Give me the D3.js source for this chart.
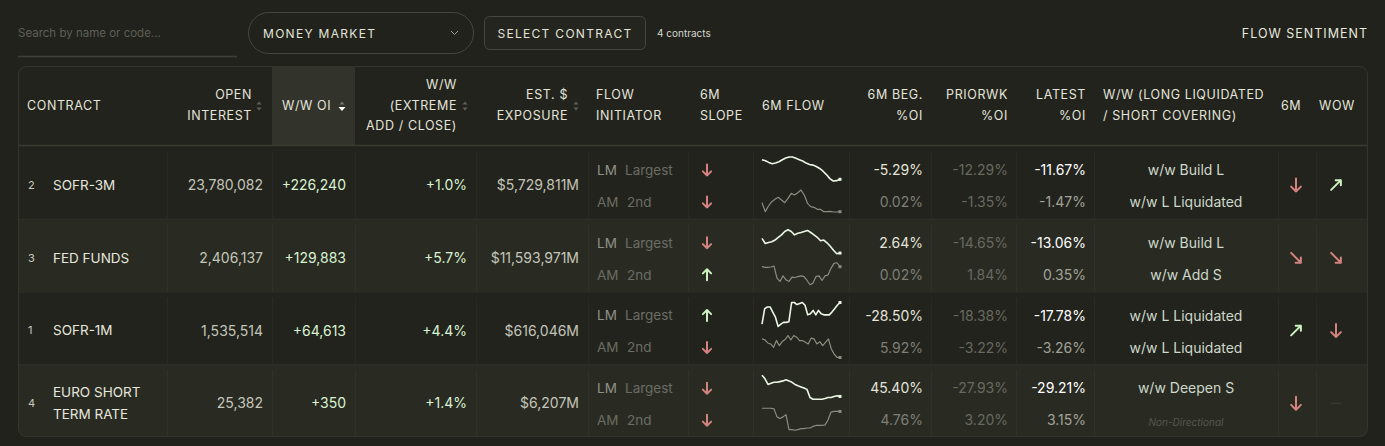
<!DOCTYPE html>
<html>
<head>
<meta charset="utf-8">
<script src="https://cdn.jsdelivr.net/npm/d3@7"></script>
<style>
  body { margin: 0; background: #21221c; overflow: hidden; }
  svg { display: block; font-family: Inter, "Noto Sans", sans-serif; }
</style>
</head>
<body>
<svg id="chart"></svg>
<script>
// ---- data ----
const contracts = [["SOFR-3M"], ["FED FUNDS"], ["SOFR-1M"], ["EURO SHORT", "TERM RATE"]];
const ranks = [2, 3, 1, 4];
const openInterest = [23780082, 2406137, 1535514, 25382];
const wwOI = [226240, 129883, 64613, 350];
const wwExtreme = [1.0, 5.7, 4.4, 1.4];
const exposureM = [5729811, 11593971, 616046, 6207];
const initiators = [["LM", "Largest"], ["AM", "2nd"]];
const slopeLM = ["down", "down", "up", "down"];
const slopeAM = ["down", "up", "down", "down"];
const begLM = [-5.29, 2.64, -28.50, 45.40];
const begAM = [0.02, 0.02, 5.92, 4.76];
const priorLM = [-12.29, -14.65, -18.38, -27.93];
const priorAM = [-1.35, 1.84, -3.22, 3.20];
const latestLM = [-11.67, -13.06, -17.78, -29.21];
const latestAM = [-1.47, 0.35, -3.26, 3.15];
const sentLM = ["w/w Build L", "w/w Build L", "w/w L Liquidated", "w/w Deepen S"];
const sentAM = ["w/w L Liquidated", "w/w Add S", "w/w L Liquidated", "Non-Directional"];
const dir6M = ["down", "downRight", "upRight", "down"];
const dirWoW = ["upRight", "downRight", "down", "none"];

// 6M flow sparklines (relative levels, higher = up)
const flowLM = [
  [70, 67, 62, 58, 60, 64, 70, 75, 78, 78, 74, 70, 66, 60, 56, 54, 50, 44, 36, 26, 14, 7, 8, 12],
  [55, 40, 43, 45, 50, 58, 65, 75, 80, 75, 65, 70, 72, 75, 78, 72, 65, 58, 48, 50, 42, 32, 20, 10, 12],
  [15, 60, 65, 65, 50, 35, 8, 15, 20, 20, 22, 78, 78, 72, 75, 78, 70, 42, 45, 55, 42, 55, 45, 42, 42, 42, 50, 60, 70, 78],
  [78, 68, 52, 55, 58, 58, 60, 62, 65, 62, 58, 52, 48, 45, 42, 38, 15, 10, 10, 10, 10, 12, 15, 15, 18, 20, 18]
];
const flowAM = [
  [42, 15, 32, 45, 52, 58, 50, 42, 55, 70, 65, 72, 80, 65, 40, 30, 28, 22, 22, 15, 15, 16, 14, 14, 15],
  [70, 68, 68, 69, 72, 35, 25, 42, 30, 25, 38, 37, 40, 42, 40, 28, 15, 20, 40, 42, 28, 42, 45, 65, 80, 82, 70],
  [70, 67, 58, 55, 45, 65, 50, 62, 68, 80, 67, 80, 75, 65, 65, 60, 55, 72, 70, 55, 62, 50, 60, 70, 40, 25, 15, 15],
  [82, 82, 82, 82, 80, 55, 50, 55, 62, 15, 15, 13, 15, 18, 18, 20, 20, 25, 28, 28, 28, 30, 45, 70, 72, 72, 72]
];

const headers = [
  { lines: ["CONTRACT"], x: 27, anchor: "start" },
  { lines: ["OPEN", "INTEREST"], x: 252, anchor: "end", sort: 259 },
  { lines: ["W/W OI"], x: 282, anchor: "start", sort: 342, active: true },
  { lines: ["W/W", "(EXTREME", "ADD / CLOSE)"], x: 457, anchor: "end", sort: 465 },
  { lines: ["EST. $", "EXPOSURE"], x: 568, anchor: "end", sort: 576 },
  { lines: ["FLOW", "INITIATOR"], x: 596, anchor: "start" },
  { lines: ["6M", "SLOPE"], x: 700, anchor: "start" },
  { lines: ["6M FLOW"], x: 762, anchor: "start" },
  { lines: ["6M BEG.", "%OI"], x: 923, anchor: "end" },
  { lines: ["PRIORWK", "%OI"], x: 1008, anchor: "end" },
  { lines: ["LATEST", "%OI"], x: 1086, anchor: "end" },
  { lines: ["W/W (LONG LIQUIDATED", "/ SHORT COVERING)"], x: 1103, anchor: "start" },
  { lines: ["6M"], x: 1291, anchor: "middle" },
  { lines: ["WOW"], x: 1337, anchor: "middle" }
];
const colEdges = [167, 272, 355, 476, 588, 688, 753, 849, 931, 1016, 1094, 1278, 1316];

// ---- setup ----
const W = 1385, H = 446;
const svg = d3.select("#chart").attr("width", W).attr("height", H);
svg.append("rect").attr("width", W).attr("height", H).attr("fill", "#21221c");

const loc = d3.formatLocale({ decimal: ".", thousands: ",", grouping: [3], currency: ["$", ""], minus: "-" });
const fInt = loc.format(",");
const fSigned = loc.format("+,");
const fPct1 = v => loc.format("+.1f")(v) + "%";
const fPct2 = v => loc.format(".2f")(v) + "%";

const RED = "#d4837e", GREEN = "#cdf2c2";

// ---- top controls ----
svg.append("text").attr("x", 18).attr("y", 37).attr("font-size", 11.5).attr("fill", "#5e5f56")
  .text("Search by name or code...");
svg.append("line").attr("x1", 18).attr("x2", 237).attr("y1", 56.5).attr("y2", 56.5)
  .attr("stroke", "#3f4038").attr("stroke-width", 1.5);

svg.append("rect").attr("x", 248.5).attr("y", 12.5).attr("width", 225).attr("height", 41).attr("rx", 20.5)
  .attr("fill", "none").attr("stroke", "#45463e");
svg.append("text").attr("x", 263).attr("y", 37.5).attr("font-size", 12).attr("letter-spacing", 1.3)
  .attr("fill", "#e3e3da").text("MONEY MARKET");
svg.append("path").attr("d", "M451,31 L454.5,34.5 L458,31").attr("fill", "none")
  .attr("stroke", "#a0a198").attr("stroke-width", 1);

svg.append("rect").attr("x", 484.5).attr("y", 16.5).attr("width", 161).attr("height", 33).attr("rx", 5)
  .attr("fill", "#24251f").attr("stroke", "#45463e");
svg.append("text").attr("x", 565).attr("y", 37.5).attr("text-anchor", "middle").attr("font-size", 12)
  .attr("letter-spacing", 1.3).attr("fill", "#e3e3da").text("SELECT CONTRACT");
svg.append("text").attr("x", 657).attr("y", 36.5).attr("font-size", 10).attr("fill", "#d6d6cc").text("4 contracts");

svg.append("text").attr("x", 1368).attr("y", 37.5).attr("text-anchor", "end").attr("font-size", 12.5)
  .attr("letter-spacing", 1).attr("fill", "#e8e8de").text("FLOW SENTIMENT");

// ---- table frame ----
const tX = 18, tY = 66, tW = 1350, tH = 371, headH = 79;
const clip = svg.append("defs").append("clipPath").attr("id", "tclip");
clip.append("rect").attr("x", tX).attr("y", tY).attr("width", tW).attr("height", tH).attr("rx", 8);
const table = svg.append("g").attr("clip-path", "url(#tclip)");
table.append("rect").attr("x", tX).attr("y", tY).attr("width", tW).attr("height", tH).attr("fill", "#22231d");

const y = d3.scaleBand().domain(d3.range(contracts.length)).range([tY + headH + 1, tY + tH]);

// row backgrounds
table.selectAll(".rowbg").data(d3.range(contracts.length)).enter().append("rect")
  .attr("x", tX).attr("width", tW)
  .attr("y", i => y(i)).attr("height", y.bandwidth())
  .attr("fill", i => i % 2 ? "#292b23" : "#22231d");
table.selectAll(".rowline").data(d3.range(1, contracts.length)).enter().append("line")
  .attr("x1", tX).attr("x2", tX + tW).attr("y1", i => y(i) + 0.5).attr("y2", i => y(i) + 0.5)
  .attr("stroke", "#2e3028");

// column dividers inside rows
d3.range(contracts.length).forEach(i => {
  table.selectAll(null).data(colEdges).enter().append("line")
    .attr("x1", d => d + 0.5).attr("x2", d => d + 0.5)
    .attr("y1", y(i) + 6).attr("y2", y(i) + y.bandwidth())
    .attr("stroke", i % 2 ? "#30322a" : "#282a23");
});

// header
table.append("rect").attr("x", 272).attr("y", tY).attr("width", 83).attr("height", headH)
  .attr("fill", "#32342c");
table.append("line").attr("x1", tX).attr("x2", tX + tW).attr("y1", tY + headH + 0.5).attr("y2", tY + headH + 0.5)
  .attr("stroke", "#3a3c33").attr("stroke-width", 1.5);
svg.append("rect").attr("x", tX + 0.5).attr("y", tY + 0.5).attr("width", tW - 1).attr("height", tH - 1).attr("rx", 8)
  .attr("fill", "none").attr("stroke", "#34362d");

const headMid = tY + 39;
headers.forEach(h => {
  const n = h.lines.length;
  const t = svg.append("text").attr("text-anchor", h.anchor).attr("font-size", 12.5)
    .attr("letter-spacing", 0.6).attr("fill", "#e4e4da");
  h.lines.forEach((ln, k) => {
    t.append("tspan").attr("x", h.x).attr("y", headMid + 4.5 + (k - (n - 1) / 2) * 20.5).text(ln);
  });
  if (h.sort) {
    const s = svg.append("g").attr("transform", `translate(${h.sort},${headMid + 1})`);
    s.append("path").attr("d", "M-2.5,-1.5 L0,-4.5 L2.5,-1.5 Z").attr("fill", h.active ? "#77786f" : "#5f6058");
    s.append("path").attr("d", h.active ? "M-3.5,1 L0,5 L3.5,1 Z" : "M-2.5,1.5 L0,4.5 L2.5,1.5 Z")
      .attr("fill", h.active ? "#ffffff" : "#5f6058");
  }
});

// ---- arrows ----
function arrow(g, dir, cx, cy, color, s) {
  const a = s * 0.75;
  let d;
  if (dir === "down") d = `M0,${-s}L0,${s}M${-a},${s - a}L0,${s}L${a},${s - a}`;
  else if (dir === "up") d = `M0,${s}L0,${-s}M${-a},${-s + a}L0,${-s}L${a},${-s + a}`;
  else if (dir === "downRight") d = `M${-s * 0.75},${-s * 0.75}L${s * 0.75},${s * 0.75}M${s * 0.75},${-s * 0.05}L${s * 0.75},${s * 0.75}L${-s * 0.05},${s * 0.75}`;
  else if (dir === "upRight") d = `M${-s * 0.75},${s * 0.75}L${s * 0.75},${-s * 0.75}M${-s * 0.05},${-s * 0.75}L${s * 0.75},${-s * 0.75}L${s * 0.75},${s * 0.05}`;
  if (dir === "none") {
    g.append("line").attr("x1", cx - 5).attr("x2", cx + 5).attr("y1", cy).attr("y2", cy)
      .attr("stroke", "#3e4038").attr("stroke-width", 1);
    return;
  }
  g.append("path").attr("transform", `translate(${cx},${cy})`).attr("d", d)
    .attr("fill", "none").attr("stroke", color).attr("stroke-width", 2)
    .attr("stroke-linecap", "round").attr("stroke-linejoin", "round");
}
const dirColor = d => (d === "up" || d === "upRight") ? GREEN : RED;

// ---- sparkline scales ----
const sparkX0 = 762, sparkX1 = 840;
function spark(g, vals, top, bottom, color, width) {
  const x = d3.scaleLinear().domain([0, vals.length - 1]).range([sparkX0, sparkX1]);
  const yy = d3.scaleLinear().domain(d3.extent(vals)).range([bottom, top]);
  const line = d3.line().x((d, i) => x(i)).y(d => yy(d));
  g.append("path").datum(vals).attr("d", line).attr("fill", "none")
    .attr("stroke", color).attr("stroke-width", width).attr("stroke-linejoin", "round");
  const last = vals.length - 1;
  g.append("rect").attr("x", x(last) - 1.5).attr("y", yy(vals[last]) - 1.5)
    .attr("width", 3).attr("height", 3).attr("fill", color);
}

// ---- rows ----
const body = svg.append("g");
d3.range(contracts.length).forEach(i => {
  const top = y(i);
  const mid = top + 39, l1 = top + 24, l2 = top + 56;
  const txt = (x, yy, s, anchor, size, color, extra) => {
    const t = body.append("text").attr("x", x).attr("y", yy + size * 0.36).attr("text-anchor", anchor)
      .attr("font-size", size).attr("fill", color).text(s);
    if (extra) extra(t);
    return t;
  };

  txt(28, mid, ranks[i], "start", 11, "#c9cabf");
  const nm = contracts[i];
  nm.forEach((ln, k) => txt(53, mid + (k - (nm.length - 1) / 2) * 22, ln, "start", 13.5, "#e6e6dc"));
  txt(263, mid, fInt(openInterest[i]), "end", 14, "#c4c5b9");
  txt(346, mid, fSigned(wwOI[i]), "end", 14, "#d9f2d1");
  txt(467, mid, fPct1(wwExtreme[i]), "end", 14, "#d9f2d1");
  txt(579, mid, "$" + fInt(exposureM[i]) + "M", "end", 14, "#c4c5b9");

  // flow initiator
  txt(597, l1, initiators[0][0], "start", 13.5, "#8f9086");
  txt(625, l1, initiators[0][1], "start", 13.5, "#6b6c63");
  txt(597, l2, initiators[1][0], "start", 13.5, "#6b6c63");
  txt(627, l2, initiators[1][1], "start", 13.5, "#6b6c63");

  arrow(body, slopeLM[i], 707, l1, dirColor(slopeLM[i]), 5.5);
  arrow(body, slopeAM[i], 707, l2, dirColor(slopeAM[i]), 5.5);

  spark(body, flowLM[i], top + 11, top + 35, "#ecf6e4", 1.6);
  spark(body, flowAM[i], top + 44, top + 66, "#8b8d81", 1.2);

  txt(923, l1, fPct2(begLM[i]), "end", 14, "#e4e4da");
  txt(923, l2, fPct2(begAM[i]), "end", 14, "#7e7f76");
  txt(1008, l1, fPct2(priorLM[i]), "end", 14, "#68695f");
  txt(1008, l2, fPct2(priorAM[i]), "end", 14, "#68695f");
  txt(1086, l1, fPct2(latestLM[i]), "end", 14, "#ffffff");
  txt(1086, l2, fPct2(latestAM[i]), "end", 14, "#a1a298");

  txt(1186, l1, sentLM[i], "middle", 14, "#cdd8ca");
  if (sentAM[i] === "Non-Directional") {
    txt(1186, l2 + 2, sentAM[i], "middle", 10, "#56574f", t => t.attr("font-style", "italic"));
  } else {
    txt(1186, l2, sentAM[i], "middle", 14, "#cdd8ca");
  }

  arrow(body, dir6M[i], 1296, mid, dirColor(dir6M[i]), 6.5);
  arrow(body, dirWoW[i], 1336, mid, dirColor(dirWoW[i]), 6.5);
});
</script>
</body>
</html>
